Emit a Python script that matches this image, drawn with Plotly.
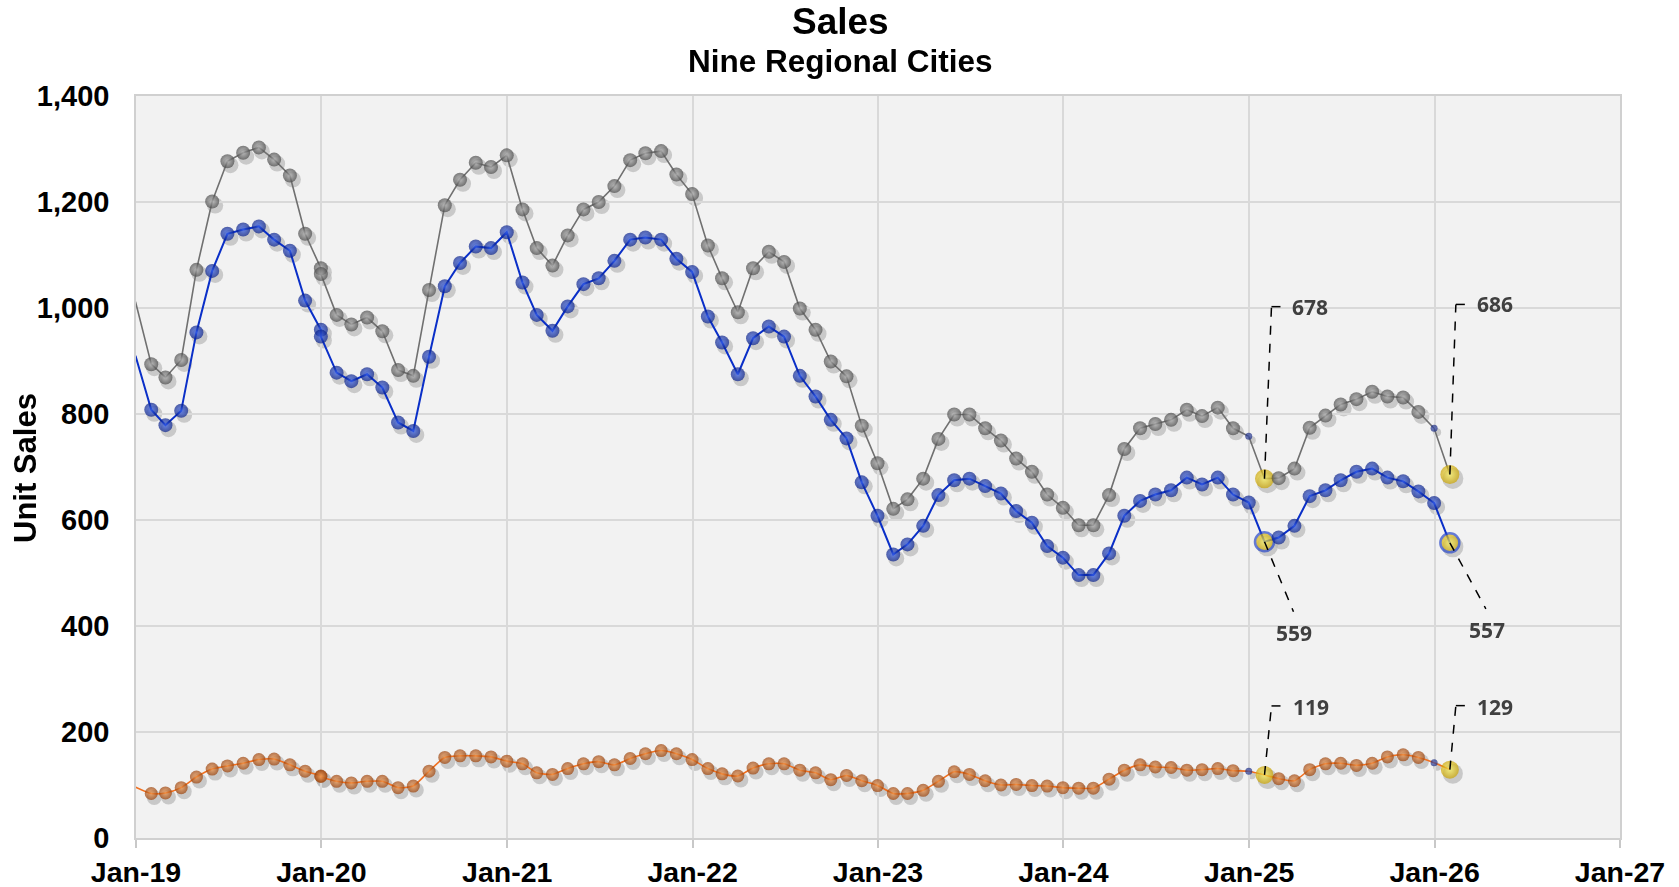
import pandas as pd
import plotly.graph_objects as go

# ---------------- data ----------------
# month labels (plotted at month end); Dec-2019 appears twice in the source series
months = [str(p) for p in pd.period_range("2018-12", "2026-01", freq="M")]
_dup = months.index("2019-12")
months = months[:_dup + 1] + ["2019-12"] + months[_dup + 1:]

total_sales = [
    1012,
    894, 869, 902, 1072, 1201, 1277, 1293, 1303, 1280, 1250, 1140, 1075,
    1064,
    987, 969, 982, 956, 883, 872, 1034, 1194, 1242, 1274, 1266, 1288,
    1186, 1113, 1080, 1137, 1186, 1200, 1230, 1279, 1292, 1296, 1252, 1215,
    1118, 1056, 992, 1075, 1106, 1087, 999, 959, 899, 871, 778, 707,
    621, 639, 678, 753, 799, 799, 773, 750, 716, 691, 648, 623,
    590, 590, 647, 734, 773, 781, 789, 808, 796, 812, 773, 758,
    678, 679, 697, 774, 797, 818, 828, 842, 833, 831, 804, 773,
    686,
]
blue_sales = [
    910,
    808, 779, 806, 954, 1070, 1140, 1148, 1154, 1129, 1108, 1014, 959,
    946,
    878, 862, 875, 850, 784, 768, 908, 1041, 1085, 1116, 1113, 1143,
    1048, 987, 957, 1003, 1045, 1056, 1089, 1129, 1133, 1129, 1093, 1068,
    984, 935, 875, 943, 965, 946, 872, 833, 789, 754, 671, 608,
    535, 554, 589, 647, 675, 678, 664, 650, 617, 595, 551, 529,
    496, 496, 537, 608, 636, 648, 656, 680, 667, 680, 648, 633,
    559, 567, 589, 645, 656, 675, 691, 697, 680, 673, 654, 632,
    557,
]
orange_sales = [
    96,
    84, 85, 95, 115, 130, 136, 141, 148, 149, 138, 126, 117,
    116,
    107, 104, 107, 107, 95, 98, 126, 152, 155, 155, 153, 145,
    140, 123, 120, 131, 140, 144, 138, 150, 159, 165, 159, 148,
    131, 121, 117, 132, 140, 140, 128, 123, 110, 118, 108, 99,
    84, 84, 90, 107, 125, 120, 108, 100, 101, 99, 98, 95,
    94, 94, 111, 128, 138, 134, 133, 128, 129, 131, 127, 126,
    119, 112, 108, 129, 140, 141, 137, 141, 153, 157, 152, 142,
    129,
]

highlight_months = ["2025-01", "2026-01"]
small_marker_months = ["2024-12", "2025-12"]

year_ticks = ["2019-01-01", "2020-01-01", "2021-01-01", "2022-01-01",
              "2023-01-01", "2024-01-01", "2025-01-01", "2026-01-01", "2027-01-01"]
year_tick_text = ["Jan-19", "Jan-20", "Jan-21", "Jan-22", "Jan-23",
                  "Jan-24", "Jan-25", "Jan-26", "Jan-27"]
y_ticks = [0, 200, 400, 600, 800, 1000, 1200, 1400]

# ---------------- styling ----------------
x_dates = [pd.Period(m, freq="M").end_time.normalize() for m in months]
FONT = "Liberation Sans, Arial, sans-serif"

W, H = 1679, 887
PL, PR, PT, PB = 136, 1620, 96, 838          # plot area edges (px)
SHX, SHY = 3, 4                              # marker shadow offset (px)
L, R, T, B = PL, W - PR - SHX, PT, H - PB - SHY
pw, ph = W - L - R, H - T - B
main_xdom = [0, 1 - SHX / pw]
main_ydom = [SHY / ph, 1]
shadow_xdom = [SHX / pw, 1]
shadow_ydom = [0, 1 - SHY / ph]

series = [
    dict(name="Total", y=total_sales, line="#707070", lw=1.6, edge="#474747", center="#B4B4B4",
         size=14, shape="linear", small=True, hl_ring=None),
    dict(name="Blue", y=blue_sales, line="#0A2FC8", lw=2, edge="#071E86", center="#3C66F0",
         size=14, shape="linear", small=False, hl_ring="#2848C8"),
    dict(name="Orange", y=orange_sales, line="#F07020", lw=1.6, edge="#983E06", center="#F29A50",
         size=13, shape="spline", small=True, hl_ring=None),
]

last_idx = {m: len(months) - 1 - months[::-1].index(m) for m in highlight_months}

fig = go.Figure()
# shadows (drawn first, on an offset copy of the axes)
for s in series:
    sizes = []
    for i, m in enumerate(months):
        if i == 0:
            sizes.append(0)
        elif m in last_idx and i == last_idx[m]:
            sizes.append(s["size"] + 7)
        elif s["small"] and m in small_marker_months:
            sizes.append(8)
        else:
            sizes.append(s["size"] + 2)
    fig.add_trace(go.Scatter(
        x=x_dates, y=s["y"], mode="markers", xaxis="x", yaxis="y",
        marker=dict(color="#303030", size=sizes, line=dict(width=0)),
        opacity=0.3, showlegend=False, hoverinfo="skip",
    ))

for s in series:
    colors, centers, sizes, lcol, lw = [], [], [], [], []
    for i, m in enumerate(months):
        if i == 0:
            colors.append(s["edge"]); centers.append(s["center"]); sizes.append(0)
            lcol.append(s["edge"]); lw.append(0)
        elif m in last_idx and i == last_idx[m]:
            colors.append("#C9A200"); centers.append("#FFF55C"); sizes.append(s["size"] + 5)
            lcol.append(s["hl_ring"] or "#A88A00"); lw.append(2.5 if s["hl_ring"] else 0)
        elif s["small"] and m in small_marker_months:
            colors.append("#1A2A80"); centers.append("#3A50B0"); sizes.append(7)
            lcol.append("#1A2A80"); lw.append(0)
        else:
            colors.append(s["edge"]); centers.append(s["center"]); sizes.append(s["size"])
            lcol.append(s["edge"]); lw.append(0)
    fig.add_trace(go.Scatter(
        x=x_dates, y=s["y"], mode="lines+markers", name=s["name"], xaxis="x2", yaxis="y2",
        line=dict(color=s["line"], width=s["lw"], shape=s["shape"], smoothing=0.6),
        marker=dict(color=colors, size=sizes, line=dict(width=lw, color=lcol),
                    gradient=dict(type="radial", color=centers)),
        showlegend=False, hoverinfo="x+y",
    ))

# ---------------- data labels with dashed leaders ----------------
# (values, month, leader corner (dx,dy), horizontal end dx, label centre (dx,dy)) in screen px, y down
labels = [
    (total_sales, "2025-01", (7, -172), 19, (46, -172)),
    (total_sales, "2026-01", (6, -170), 17, (45, -170)),
    (blue_sales, "2025-01", (29, 70), None, (30, 91)),
    (blue_sales, "2026-01", (36, 66), None, (37, 87)),
    (orange_sales, "2025-01", (7, -69), 19, (47, -68)),
    (orange_sales, "2026-01", (6, -64), 18, (45, -63)),
]
shapes = [dict(type="rect", xref="paper", yref="paper", x0=main_xdom[0], x1=main_xdom[1],
               y0=main_ydom[0], y1=main_ydom[1], fillcolor="#F2F2F2", line=dict(width=0), layer="below")]
annotations = []
for vals, m, corner, hend, lab in labels:
    idx = last_idx[m]
    xv, yv = x_dates[idx], vals[idx]
    base = dict(type="line", xref="x2", yref="y2", xsizemode="pixel", ysizemode="pixel",
                xanchor=xv, yanchor=yv, line=dict(color="black", width=1.5, dash="dash"), layer="above")
    shapes.append(dict(base, x0=0, y0=0, x1=corner[0], y1=-corner[1]))
    if hend is not None:
        shapes.append(dict(base, x0=corner[0], y0=-corner[1], x1=hend, y1=-corner[1]))
    annotations.append(dict(x=xv, y=yv, xref="x2", yref="y2", text=f"{yv:,}", showarrow=False,
                            xshift=lab[0], yshift=-lab[1], xanchor="center", yanchor="middle",
                            font=dict(family="Open Sans, Liberation Sans, sans-serif", size=21,
                                      color="#404040", weight="bold")))


def py(px_from_top):
    return (H - B - px_from_top) / ph


def pxx(px_from_left):
    return (px_from_left - L) / pw


annotations += [
    dict(text="Sales", x=pxx(840), y=py(22), xref="paper", yref="paper", showarrow=False,
         xanchor="center", yanchor="middle", font=dict(family=FONT, size=37, color="black", weight="bold")),
    dict(text="Nine Regional Cities", x=pxx(840), y=py(61), xref="paper", yref="paper", showarrow=False,
         xanchor="center", yanchor="middle", font=dict(family=FONT, size=31.5, color="black", weight="bold")),
    dict(text="Unit Sales", x=pxx(25), y=py(468), xref="paper", yref="paper", showarrow=False,
         textangle=-90, xanchor="center", yanchor="middle",
         font=dict(family=FONT, size=31, color="black", weight="bold")),
]

hidden_axis = dict(visible=False, showgrid=False, zeroline=False, fixedrange=True)
fig.update_layout(
    width=W, height=H,
    margin=dict(l=L, r=R, t=T, b=B, autoexpand=False),
    paper_bgcolor="white", plot_bgcolor="rgba(0,0,0,0)",
    shapes=shapes, annotations=annotations,
    xaxis=dict(hidden_axis, type="date", range=["2019-01-01", "2027-01-01"], domain=shadow_xdom, anchor="y"),
    yaxis=dict(hidden_axis, range=[0, 1400], domain=shadow_ydom, anchor="x"),
    xaxis2=dict(type="date", range=["2019-01-01", "2027-01-01"], tickvals=year_ticks, ticktext=year_tick_text,
                domain=main_xdom, anchor="y2", automargin=False,
                ticks="outside", ticklen=8, tickcolor="#C8C8C8", tickwidth=1.5,
                showgrid=True, gridcolor="#D9D9D9", gridwidth=1.5,
                showline=True, linecolor="#D0D0D0", linewidth=1.5, mirror=True,
                tickfont=dict(family=FONT, size=28.5, color="black", weight="bold"),
                ticklabelstandoff=0, zeroline=False),
    yaxis2=dict(range=[0, 1400], tickvals=y_ticks, tickformat=",", domain=main_ydom, anchor="x2",
                automargin=False,
                showgrid=True, gridcolor="#D9D9D9", gridwidth=1.5,
                showline=True, linecolor="#D0D0D0", linewidth=1.5, mirror=True,
                ticks="", ticklabelstandoff=19,
                tickfont=dict(family=FONT, size=29, color="black", weight="bold"), zeroline=False),
)

fig.write_html("out.html", config={"displayModeBar": False},
               post_script="document.body.style.margin='0px';")
